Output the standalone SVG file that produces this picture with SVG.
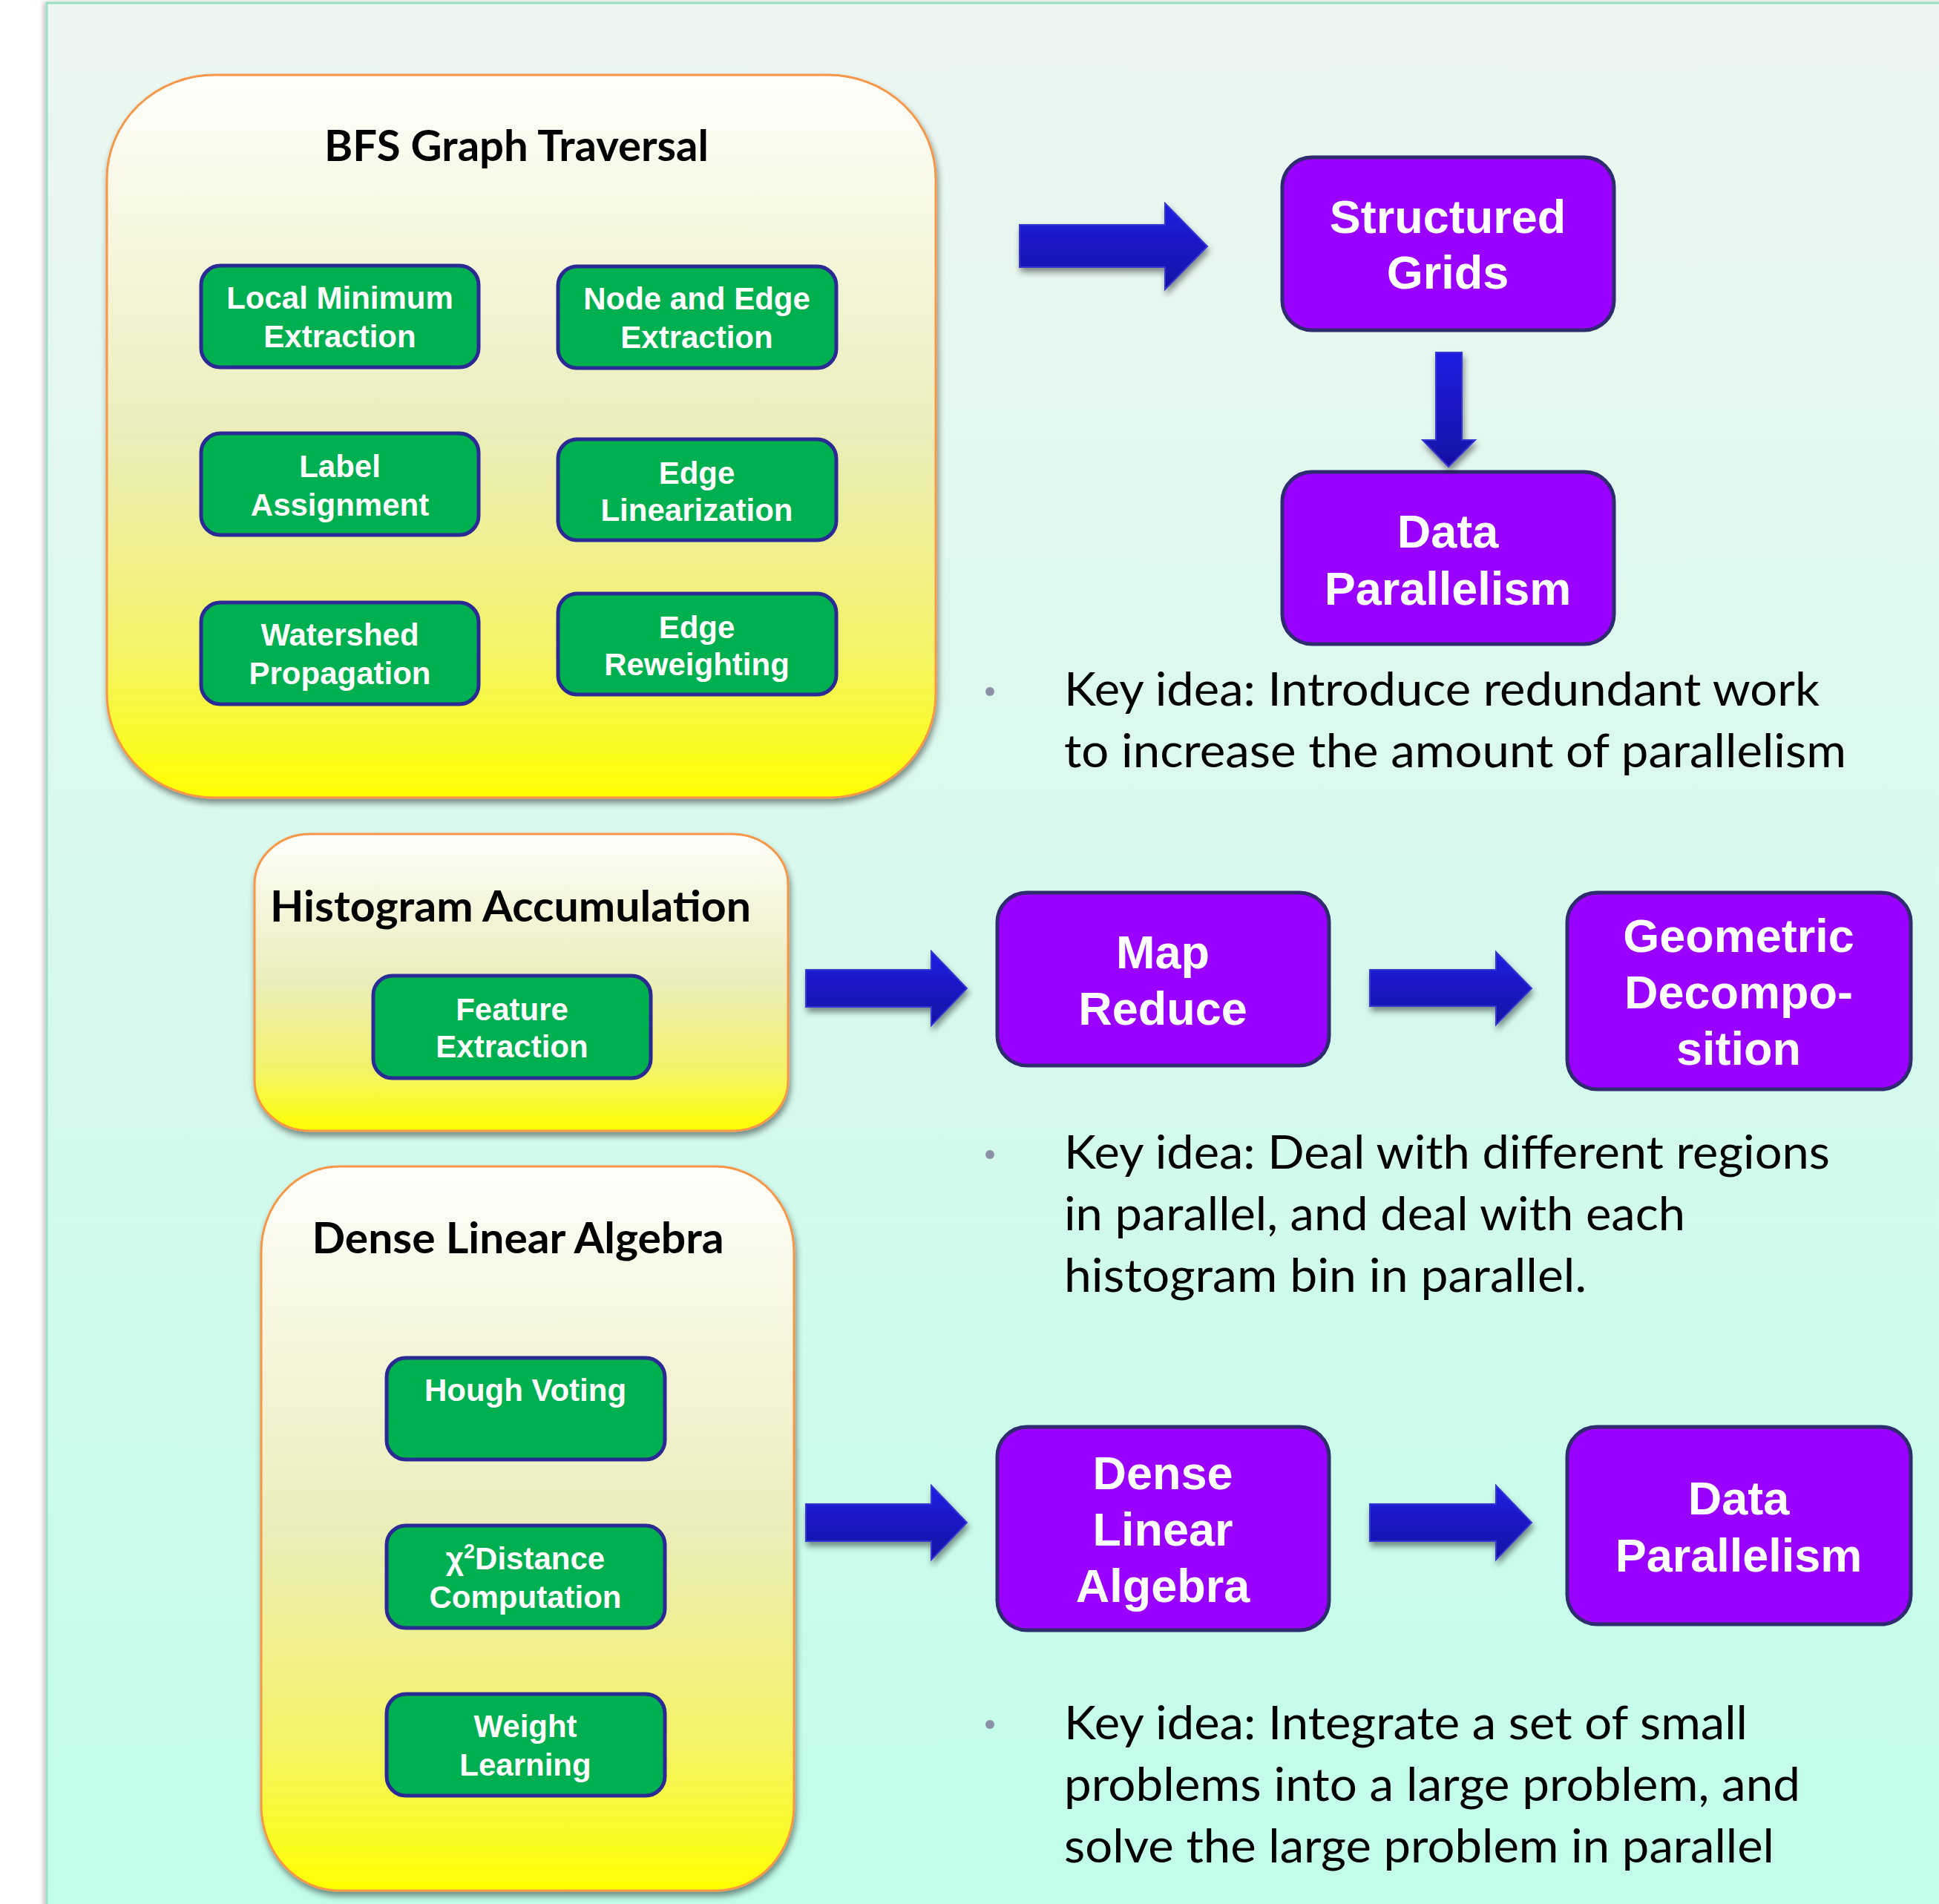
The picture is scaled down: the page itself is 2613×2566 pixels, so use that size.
<svg xmlns="http://www.w3.org/2000/svg" width="2613" height="2566" viewBox="0 0 2613 2566">
  <defs>
    <linearGradient id="bgGrad" x1="0" y1="0" x2="0" y2="1">
      <stop offset="0" stop-color="#ecf6f0"/>
      <stop offset="1" stop-color="#c1fdea"/>
    </linearGradient>
    <linearGradient id="groupGrad" x1="0" y1="0" x2="0" y2="1">
      <stop offset="0" stop-color="#fefefb"/>
      <stop offset="0.5" stop-color="#ebedba"/>
      <stop offset="0.8" stop-color="#f3f366"/>
      <stop offset="1" stop-color="#ffff00"/>
    </linearGradient>
    <linearGradient id="arrowGrad" x1="0" y1="0" x2="0" y2="1">
      <stop offset="0" stop-color="#1e1ee2"/>
      <stop offset="1" stop-color="#1610a4"/>
    </linearGradient>
    <filter id="shadow" x="-10%" y="-10%" width="120%" height="125%">
      <feGaussianBlur in="SourceAlpha" stdDeviation="4"/>
      <feOffset dx="2" dy="6" result="off"/>
      <feComponentTransfer>
        <feFuncA type="linear" slope="0.45"/>
      </feComponentTransfer>
      <feMerge>
        <feMergeNode/>
        <feMergeNode in="SourceGraphic"/>
      </feMerge>
    </filter>
    <filter id="edgeShadow" x="-5%" y="-5%" width="110%" height="110%">
      <feGaussianBlur in="SourceAlpha" stdDeviation="3"/>
      <feOffset dx="-3" dy="0" result="off"/>
      <feComponentTransfer>
        <feFuncA type="linear" slope="0.25"/>
      </feComponentTransfer>
      <feMerge>
        <feMergeNode/>
        <feMergeNode in="SourceGraphic"/>
      </feMerge>
    </filter>
    <style>
      .group { fill: url(#groupGrad); stroke: #f79646; stroke-width: 3; filter: url(#shadow); }
      .task { fill: #00af50; stroke: #2b2a95; stroke-width: 5; }
      .pattern { fill: #9900ff; stroke: #2e2b6e; stroke-width: 5; }
      .arrow { fill: url(#arrowGrad); stroke: #3434d2; stroke-width: 2; filter: url(#shadow); }
      .title { font-family: Lato, "Open Sans", sans-serif; font-weight: bold; font-size: 57px; fill: #000; text-anchor: middle; }
      .taskText { font-family: "Liberation Sans", Arial, sans-serif; font-weight: bold; font-size: 42px; fill: #fff; text-anchor: middle; }
      .patText { font-family: "Liberation Sans", Arial, sans-serif; font-weight: bold; font-size: 63px; fill: #fff; text-anchor: middle; }
      .note { font-family: Lato, "Open Sans", sans-serif; font-size: 62px; fill: #000; }
      .bullet { fill: #8e90a8; }
    </style>
  </defs>

  <!-- slide background -->
  <rect x="0" y="0" width="2613" height="2566" fill="#ffffff"/>
  <rect x="63" y="4" width="2560" height="2572" fill="url(#bgGrad)" stroke="#9adfc3" stroke-width="3" filter="url(#edgeShadow)"/>

  <!-- BFS Graph Traversal group -->
  <g id="bfs">
    <rect class="group" x="144" y="101" width="1117" height="974" rx="145" ry="140"/>
    <text class="title" x="696" y="217" textLength="518" lengthAdjust="spacingAndGlyphs">BFS Graph Traversal</text>
  </g>
  <g id="local-minimum">
    <rect class="task" x="271" y="358" width="374" height="137" rx="26"/>
    <text class="taskText" x="458" y="416">Local Minimum</text>
    <text class="taskText" x="458" y="468">Extraction</text>
  </g>
  <g id="node-edge">
    <rect class="task" x="752" y="359" width="375" height="137" rx="26"/>
    <text class="taskText" x="939" y="417">Node and Edge</text>
    <text class="taskText" x="939" y="469">Extraction</text>
  </g>
  <g id="label-assignment">
    <rect class="task" x="271" y="584" width="374" height="137" rx="26"/>
    <text class="taskText" x="458" y="643">Label</text>
    <text class="taskText" x="458" y="695">Assignment</text>
  </g>
  <g id="edge-linearization">
    <rect class="task" x="752" y="592" width="375" height="136" rx="26"/>
    <text class="taskText" x="939" y="652">Edge</text>
    <text class="taskText" x="939" y="702">Linearization</text>
  </g>
  <g id="watershed">
    <rect class="task" x="271" y="812" width="374" height="137" rx="26"/>
    <text class="taskText" x="458" y="870">Watershed</text>
    <text class="taskText" x="458" y="922">Propagation</text>
  </g>
  <g id="edge-reweighting">
    <rect class="task" x="752" y="800" width="375" height="136" rx="26"/>
    <text class="taskText" x="939" y="860">Edge</text>
    <text class="taskText" x="939" y="910">Reweighting</text>
  </g>

  <!-- Histogram Accumulation group -->
  <g id="histogram">
    <rect class="group" x="343" y="1124" width="719" height="400" rx="75" ry="68"/>
    <text class="title" x="688" y="1242" font-size="56" textLength="648" lengthAdjust="spacingAndGlyphs">Histogram Accumulation</text>
  </g>
  <g id="feature-extraction">
    <rect class="task" x="503" y="1315" width="374" height="138" rx="26"/>
    <text class="taskText" x="690" y="1375">Feature</text>
    <text class="taskText" x="690" y="1425">Extraction</text>
  </g>

  <!-- Dense Linear Algebra group -->
  <g id="dense-group">
    <rect class="group" x="352" y="1572" width="718" height="976" rx="105" ry="115"/>
    <text class="title" x="698" y="1689" font-size="55" textLength="555" lengthAdjust="spacingAndGlyphs">Dense Linear Algebra</text>
  </g>
  <g id="hough-voting">
    <rect class="task" x="521" y="1830" width="375" height="137" rx="26"/>
    <text class="taskText" x="708" y="1888">Hough Voting</text>
  </g>
  <g id="chi2-distance">
    <rect class="task" x="521" y="2056" width="375" height="138" rx="26"/>
    <text class="taskText" x="708" y="2115">χ<tspan font-size="27" dy="-15">2</tspan><tspan dy="15">Distance</tspan></text>
    <text class="taskText" x="708" y="2167">Computation</text>
  </g>
  <g id="weight-learning">
    <rect class="task" x="521" y="2283" width="375" height="137" rx="26"/>
    <text class="taskText" x="708" y="2341">Weight</text>
    <text class="taskText" x="708" y="2393">Learning</text>
  </g>

  <!-- parallel patterns -->
  <g id="structured-grids">
    <rect class="pattern" x="1728" y="212" width="447" height="233" rx="40"/>
    <text class="patText" x="1951" y="314">Structured</text>
    <text class="patText" x="1951" y="389">Grids</text>
  </g>
  <g id="data-parallelism-1">
    <rect class="pattern" x="1728" y="636" width="447" height="232" rx="40"/>
    <text class="patText" x="1951" y="738">Data</text>
    <text class="patText" x="1951" y="815">Parallelism</text>
  </g>
  <g id="map-reduce">
    <rect class="pattern" x="1344" y="1203" width="447" height="233" rx="40"/>
    <text class="patText" x="1567" y="1305">Map</text>
    <text class="patText" x="1567" y="1381">Reduce</text>
  </g>
  <g id="geometric-decomposition">
    <rect class="pattern" x="2112" y="1203" width="463" height="265" rx="40"/>
    <text class="patText" x="2343" y="1283">Geometric</text>
    <text class="patText" x="2343" y="1359">Decompo-</text>
    <text class="patText" x="2343" y="1435">sition</text>
  </g>
  <g id="dense-linear-algebra">
    <rect class="pattern" x="1344" y="1923" width="447" height="274" rx="40"/>
    <text class="patText" x="1567" y="2007">Dense</text>
    <text class="patText" x="1567" y="2083">Linear</text>
    <text class="patText" x="1567" y="2159">Algebra</text>
  </g>
  <g id="data-parallelism-2">
    <rect class="pattern" x="2112" y="1923" width="463" height="266" rx="40"/>
    <text class="patText" x="2343" y="2041">Data</text>
    <text class="patText" x="2343" y="2118">Parallelism</text>
  </g>

  <!-- block arrows -->
  <g id="connectors">
    <path class="arrow" d="M1374,303 H1570 V274 L1627,332 L1570,390 V360 H1374 Z"/>
    <path class="arrow" d="M1935,475 H1970 V593 H1988 L1952,629 L1917,593 H1935 Z"/>
    <path class="arrow" d="M1086,1307 H1255 V1282 L1303,1332 L1255,1382 V1357 H1086 Z"/>
    <path class="arrow" d="M1846,1307 H2016 V1283 L2064,1332 L2016,1381 V1356 H1846 Z"/>
    <path class="arrow" d="M1086,2027 H1255 V2002 L1303,2052 L1255,2102 V2077 H1086 Z"/>
    <path class="arrow" d="M1846,2027 H2016 V2002 L2064,2052 L2016,2102 V2077 H1846 Z"/>
  </g>

  <!-- key ideas -->
  <g id="note-1">
    <circle class="bullet" cx="1334" cy="932" r="6"/>
    <text class="note" x="1434" y="951" textLength="1018" lengthAdjust="spacingAndGlyphs">Key idea: Introduce redundant work</text>
    <text class="note" x="1434" y="1034" textLength="1054" lengthAdjust="spacingAndGlyphs">to increase the amount of parallelism</text>
  </g>
  <g id="note-2">
    <circle class="bullet" cx="1334" cy="1556" r="6"/>
    <text class="note" x="1434" y="1575" textLength="1032" lengthAdjust="spacingAndGlyphs">Key idea: Deal with different regions</text>
    <text class="note" x="1434" y="1658" textLength="837" lengthAdjust="spacingAndGlyphs">in parallel, and deal with each</text>
    <text class="note" x="1434" y="1741" textLength="704" lengthAdjust="spacingAndGlyphs">histogram bin in parallel.</text>
  </g>
  <g id="note-3">
    <circle class="bullet" cx="1334" cy="2324" r="6"/>
    <text class="note" x="1434" y="2344" textLength="921" lengthAdjust="spacingAndGlyphs">Key idea: Integrate a set of small</text>
    <text class="note" x="1434" y="2427" textLength="992" lengthAdjust="spacingAndGlyphs">problems into a large problem, and</text>
    <text class="note" x="1434" y="2510" textLength="957" lengthAdjust="spacingAndGlyphs">solve the large problem in parallel</text>
  </g>
</svg>
